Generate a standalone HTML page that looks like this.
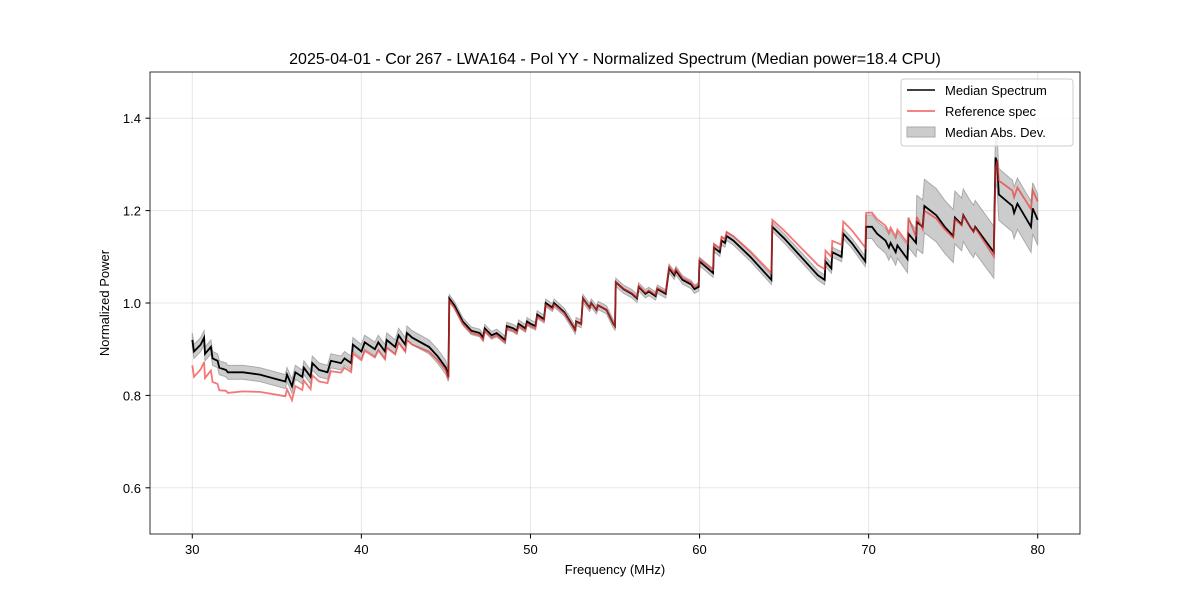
<!DOCTYPE html>
<html><head><meta charset="utf-8"><style>
body{margin:0;background:#fff}
svg text{font-family:"Liberation Sans","DejaVu Sans",sans-serif;fill:#000}
</style></head><body>
<svg id="c" width="1200" height="600" xmlns="http://www.w3.org/2000/svg">
<rect width="1200" height="600" fill="#fff"/>
<text x="615" y="64" font-size="16" text-anchor="middle">2025-04-01 - Cor 267 - LWA164 - Pol YY - Normalized Spectrum (Median power=18.4 CPU)</text>
<g id="grid"></g><g id="band"></g><g id="lines"></g>
<rect x="150" y="72" width="930" height="462" fill="none" stroke="#000" stroke-width="0.8"/>
<g id="axes"></g>
<text x="615" y="574" font-size="13" text-anchor="middle">Frequency (MHz)</text>
<text x="109" y="303" font-size="13" text-anchor="middle" transform="rotate(-90 109 303)">Normalized Power</text>
<g>
<rect x="901" y="79" width="172" height="67" rx="3" fill="#fff" fill-opacity="0.8" stroke="#ccc"/>
<line x1="907" y1="90" x2="935" y2="90" stroke="#000" stroke-width="1.5"/>
<text x="945" y="95" font-size="13">Median Spectrum</text>
<line x1="907" y1="111" x2="935" y2="111" stroke="#f05a5a" stroke-width="1.5"/>
<text x="945" y="116" font-size="13">Reference spec</text>
<rect x="907" y="127" width="28" height="10" fill="#ccc" stroke="#aaa"/>
<text x="945" y="137" font-size="13">Median Abs. Dev.</text>
</g>
</svg>
<script>
const freqs=[30,30.1,30.5,30.7,30.75,31.1,31.2,31.5,31.6,32,32.1,33,34,35,35.5,35.6,35.9,36.1,36.5,36.6,37,37.1,37.5,38,38.2,38.8,39,39.4,39.5,40,40.2,40.8,41,41.4,41.5,42,42.2,42.6,42.7,43,44,44.5,45,45.15,45.2,45.5,46,46.5,47,47.2,47.3,47.7,48,48.5,48.6,49,49.2,49.3,49.7,49.8,50,50.3,50.4,50.8,50.9,51.3,51.4,52,52.6,52.65,52.7,53,53.1,53.3,53.5,53.6,53.9,54,54.5,54.9,55,55.05,55.5,56,56.3,56.4,56.8,57,57.4,57.5,58,58.2,58.5,58.6,59,59.5,59.7,59.95,60,60.8,60.85,61.2,61.3,61.5,61.6,62,63,64,64.25,64.3,65,66,67,67.4,67.45,67.8,67.85,68.4,68.5,69,69.8,69.85,70.2,70.5,71,71.2,71.3,71.6,71.7,72.3,72.35,72.8,72.85,73.2,73.3,74,74.5,75,75.1,75.5,75.6,76,76.2,76.3,77,77.4,77.5,77.6,77.7,78.5,78.6,78.8,79.2,79.6,79.7,80];
const median=[0.92,0.895,0.91,0.925,0.89,0.905,0.88,0.875,0.86,0.855,0.85,0.85,0.845,0.835,0.83,0.845,0.82,0.85,0.84,0.86,0.84,0.87,0.855,0.85,0.875,0.87,0.88,0.87,0.91,0.895,0.915,0.9,0.915,0.895,0.92,0.905,0.93,0.91,0.935,0.925,0.905,0.885,0.86,0.84,1.01,0.995,0.96,0.94,0.935,0.925,0.945,0.93,0.935,0.92,0.95,0.945,0.94,0.955,0.945,0.96,0.955,0.95,0.975,0.965,1.0,0.99,1.0,0.98,0.945,0.94,0.96,0.955,1.01,1.0,0.99,1.0,0.985,0.995,0.985,0.955,0.95,1.045,1.03,1.02,1.01,1.035,1.02,1.025,1.015,1.03,1.02,1.075,1.06,1.07,1.05,1.04,1.03,1.035,1.09,1.065,1.12,1.11,1.135,1.13,1.145,1.135,1.1,1.06,1.05,1.165,1.14,1.1,1.06,1.05,1.09,1.075,1.11,1.1,1.15,1.13,1.09,1.165,1.165,1.15,1.135,1.12,1.13,1.11,1.125,1.095,1.15,1.13,1.175,1.165,1.21,1.19,1.165,1.145,1.185,1.17,1.19,1.165,1.155,1.165,1.13,1.11,1.315,1.305,1.235,1.21,1.195,1.215,1.19,1.165,1.205,1.18];
// reference spectrum minus median, at breakpoint frequencies
const refDeltaF=[30,31.5,32,36,39,43,45.2,50,54,60,64.3,69.85,72.35,73.3,76,77.45,77.5,77.7,80];
const refDeltaV=[-0.055,-0.05,-0.045,-0.03,-0.02,-0.015,-0.005,-0.005,0,0.005,0.015,0.03,0.035,-0.01,0,-0.01,-0.025,0.03,0.04];
// median absolute deviation half-width, at breakpoint frequencies
const madF=[30,45,45.2,60,69.8,69.85,72.8,72.85,80];
const madV=[0.015,0.015,0.008,0.009,0.011,0.025,0.03,0.058,0.055];
const xTicks=[30,40,50,60,70,80];
const yTicks=[0.6,0.8,1.0,1.2,1.4];
const X=f=>150+(f-27.5)/55*930, Y=v=>534-(v-0.5)*462;
function lerp(F,V,f){for(let i=1;i<F.length;i++){if(f<=F[i]){const t=(f-F[i-1])/(F[i]-F[i-1]||1);return V[i-1]+t*(V[i]-V[i-1]);}}return V[V.length-1];}
const NS='http://www.w3.org/2000/svg';
function mk(t,a,p){const e=document.createElementNS(NS,t);for(const k in a)e.setAttribute(k,a[k]);p.appendChild(e);return e;}
const grid=document.getElementById('grid'),axes=document.getElementById('axes');
xTicks.forEach(t=>{const x=X(t);
 const g=mk('line',{x1:x,x2:x,y1:72,y2:534,stroke:'#b0b0b0','stroke-opacity':0.3},grid);
 
 
 mk('line',{x1:x,x2:x,y1:534,y2:538.5,stroke:'#000'},axes);
 const l=mk('text',{x:x,y:554,'font-size':13,'text-anchor':'middle'},axes);l.textContent=t;
 
 });
yTicks.forEach(t=>{const y=Y(t);
 const g=mk('line',{x1:150,x2:1080,y1:y,y2:y,stroke:'#b0b0b0','stroke-opacity':0.3},grid);
 
 
 mk('line',{x1:145.5,x2:150,y1:y,y2:y,stroke:'#000'},axes);
 const l=mk('text',{x:141,y:y+5,'font-size':13,'text-anchor':'end'},axes);l.textContent=t.toFixed(1);
 
 });
let up='',dn='',med='',ref='';
freqs.forEach((f,i)=>{const m=median[i],d=lerp(madF,madV,f),r=m+lerp(refDeltaF,refDeltaV,f);
 up+=(i?'L':'M')+X(f).toFixed(1)+','+Y(m+d).toFixed(1);
 med+=(i?'L':'M')+X(f).toFixed(1)+','+Y(m).toFixed(1);
 ref+=(i?'L':'M')+X(f).toFixed(1)+','+Y(r).toFixed(1);});
for(let i=freqs.length-1;i>=0;i--){const f=freqs[i];dn+='L'+X(f).toFixed(1)+','+Y(median[i]-lerp(madF,madV,f)).toFixed(1);}
const band=mk('path',{d:up+dn+'Z',fill:'#ccc',stroke:'#aaa','stroke-width':1},document.getElementById('band'));


const L=document.getElementById('lines');
const pm=mk('path',{d:med,fill:'none',stroke:'#000','stroke-width':1.8},L);


const pr=mk('path',{d:ref,fill:'none',stroke:'#f03030','stroke-width':1.8,'stroke-opacity':0.65},L);


</script>
</body></html>
